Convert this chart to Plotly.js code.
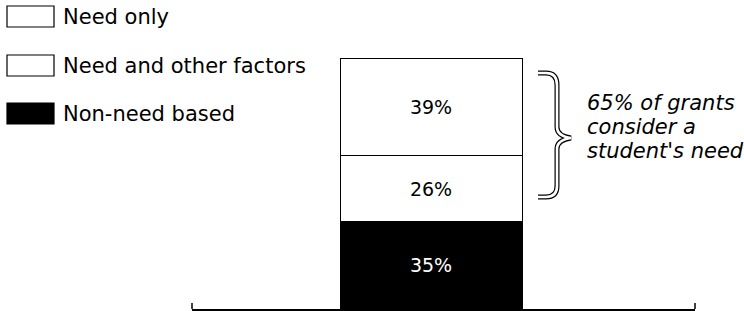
<!DOCTYPE html>
<html>
<head>
<meta charset="utf-8">
<script src="https://cdn.plot.ly/plotly-3.0.1.min.js"></script>
<style>
  html, body { margin: 0; padding: 0; background: #fff; }
  #chart { width: 744px; height: 311px; }
</style>
</head>
<body>
<div id="chart"></div>
<script>
// ---- data ----
const categories = ['Grants'];
const seriesNames = ['Non-need based', 'Need and other factors', 'Need only']; // bottom to top
const nonNeedValues = [35];
const needOtherValues = [26];
const needOnlyValues = [39];
const seriesColors = ['#000000', '#ffffff', '#ffffff'];
const labelColors = ['#ffffff', '#000000', '#000000'];
const braceNoteLines = ['of grants', 'consider a', "student's need"];

// ---- geometry helpers (pixel -> paper) ----
const W = 744, H = 311;
const M = { l: 192, r: 49, t: 58, b: 2 };
const PW = W - M.l - M.r, PH = H - M.t - M.b;
const px = x => (x - M.l) / PW;
const py = y => (H - M.b - y) / PH;

const FONT = '"DejaVu Sans", "Liberation Sans", Arial, sans-serif';
const seriesValues = [nonNeedValues, needOtherValues, needOnlyValues];

const barCenterPx = 431 - M.l, barWidthPx = 182;

const traces = seriesNames.map((name, i) => ({
  type: 'bar',
  name: name,
  x: [0],
  y: seriesValues[i],
  width: 1,
  marker: { color: seriesColors[i], line: { color: '#000', width: 1 } },
  text: seriesValues[i].map(v => v + '%'),
  textposition: 'inside',
  insidetextanchor: 'middle',
  textangle: 0,
  textfont: { family: FONT, size: 19, color: labelColors[i] },
  hoverinfo: 'skip',
  showlegend: false
}));

// custom legend (top to bottom: Need only, Need and other factors, Non-need based)
const legendRows = [
  { idx: 2, top: 6 },
  { idx: 1, top: 55 },
  { idx: 0, top: 103 }
];
const shapes = [];
const annotations = [];
legendRows.forEach(r => {
  shapes.push({
    type: 'rect', xref: 'paper', yref: 'paper',
    x0: px(7), x1: px(54), y0: py(r.top + 21), y1: py(r.top),
    fillcolor: seriesColors[r.idx], line: { color: '#000', width: 1.2 }
  });
  annotations.push({
    xref: 'paper', yref: 'paper', x: px(61), y: py(r.top + 11),
    xanchor: 'left', yanchor: 'middle', showarrow: false,
    text: seriesNames[r.idx],
    font: { family: FONT, size: 21, color: '#000' }
  });
});

// axis end ticks
shapes.push({ type: 'line', xref: 'paper', yref: 'paper', x0: 0, x1: 0, y0: 0, y1: 6 / PH, line: { color: '#000', width: 1.5 } });
shapes.push({ type: 'line', xref: 'paper', yref: 'paper', x0: 1, x1: 1, y0: 0, y1: 6 / PH, line: { color: '#000', width: 1.5 } });

// brace (hollow outline look)
function bracePath() {
  const pts = (x, y) => px(x).toFixed(5) + ',' + py(y).toFixed(5);
  return 'M ' + pts(538, 73) + ' L ' + pts(546, 73) +
    ' Q ' + pts(557, 73) + ' ' + pts(557, 85) +
    ' L ' + pts(557, 127) +
    ' Q ' + pts(557, 136) + ' ' + pts(571, 138) +
    ' Q ' + pts(557, 140) + ' ' + pts(557, 149) +
    ' L ' + pts(557, 186) +
    ' Q ' + pts(557, 197) + ' ' + pts(546, 197) +
    ' L ' + pts(538, 197);
}
shapes.push({ type: 'path', xref: 'paper', yref: 'paper', path: bracePath(), line: { color: '#000', width: 5 } });
shapes.push({ type: 'path', xref: 'paper', yref: 'paper', path: bracePath(), line: { color: '#fff', width: 2.6 } });

// brace note
const needShare = needOnlyValues[0] + needOtherValues[0];
const noteLines = [needShare + '% ' + braceNoteLines[0], braceNoteLines[1], braceNoteLines[2]];
const noteCenters = [103, 127, 151];
noteLines.forEach((t, i) => {
  annotations.push({
    xref: 'paper', yref: 'paper', x: px(585), y: py(noteCenters[i]),
    xanchor: 'left', yanchor: 'middle', showarrow: false,
    text: '<i>' + t + '</i>',
    font: { family: FONT, size: 21, color: '#000', style: 'italic' }
  });
});

const layout = {
  width: W, height: H,
  margin: M,
  paper_bgcolor: '#fff', plot_bgcolor: '#fff',
  barmode: 'stack',
  showlegend: false,
  xaxis: {
    range: [-barCenterPx / barWidthPx, (PW - barCenterPx) / barWidthPx],
    showline: true, linecolor: '#000', linewidth: 1.5,
    showticklabels: false, ticks: '', showgrid: false, zeroline: false, fixedrange: true
  },
  yaxis: {
    range: [0, 100], visible: false, showgrid: false, zeroline: false, fixedrange: true
  },
  shapes: shapes,
  annotations: annotations
};

Plotly.newPlot('chart', traces, layout, { staticPlot: true, displayModeBar: false });
</script>
</body>
</html>
